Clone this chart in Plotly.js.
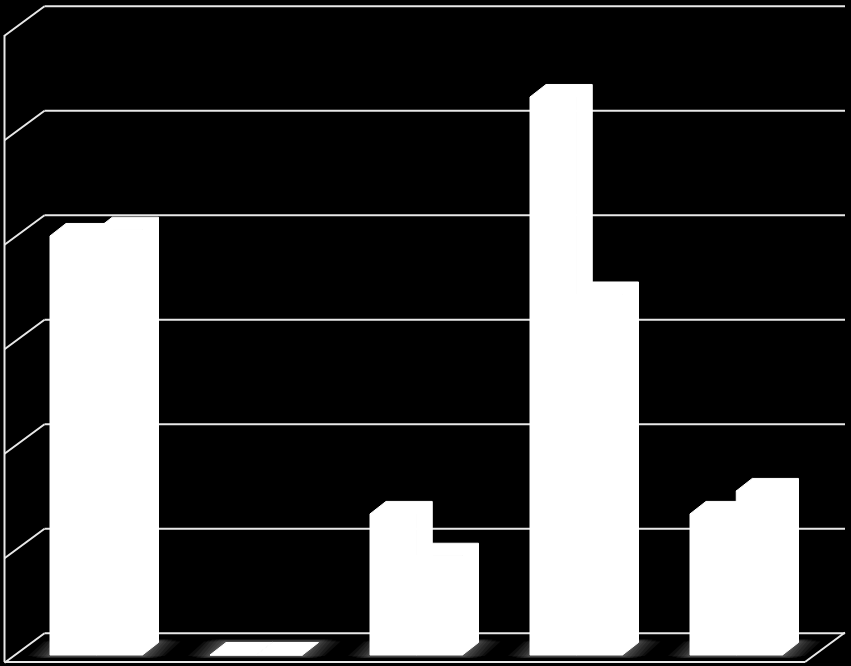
<!DOCTYPE html>
<html>
<head>
<meta charset="utf-8">
<script src="https://cdn.plot.ly/plotly-3.0.1.min.js"></script>
<style>html,body{margin:0;padding:0;background:#000;overflow:hidden}#c{width:851px;height:666px}</style>
</head>
<body>
<div id="c"></div>
<script>
var categories = [0, 1, 2, 3, 4];
var seriesA = [4.01, 0, 1.35, 5.34, 1.35];
var seriesB = [4.07, 0, 0.95, 3.45, 1.57];
var gridValues = [0, 1, 2, 3, 4, 5, 6];

// Projection settings for the pseudo-3D look (axis units)
var PXX = 160, PXY = 104.5;
var barW = 46.25 / PXX, barDX = 16 / PXX, barDY = 12.5 / PXY;
var wallX0 = -45.5 / PXX, wallX1 = 755 / PXX, wallFrontBase = -7 / PXY;
var wallDX = 40 / PXX, wallDY = 29.5 / PXY;
var gridColor = '#e8e8e8', gridWidth = 2;

function seg(x0, y0, x1, y1, w) {
  return {type: 'line', layer: 'below', xref: 'x', yref: 'y', x0: x0, y0: y0, x1: x1, y1: y1,
          line: {color: gridColor, width: w || gridWidth}};
}
var shapes = [];
gridValues.forEach(function (g) {
  var fy = wallFrontBase + g - 0.7 / PXY, by = wallFrontBase + g + wallDY - 0.7 / PXY, bx = wallX0 + wallDX;
  shapes.push(seg(wallX0, fy, bx, by));
  shapes.push(seg(bx, by, wallX1 + wallDX, by));
});
shapes.push(seg(wallX0, wallFrontBase, wallX0, wallFrontBase + 6));
shapes.push(seg(wallX0, wallFrontBase, wallX1, wallFrontBase));
shapes.push(seg(wallX1, wallFrontBase, wallX1 + wallDX, wallFrontBase + wallDY));

var traces = [];
// soft floor shadows (white on white stays invisible over the bars)
var glow = [[22, 1], [18, 2], [14, 3], [10, 3], [7, 3], [4, 2], [2, 2]];
categories.forEach(function (c) {
  glow.forEach(function (g) {
    var ex = g[0] / PXX, ey = g[1] / PXY;
    var l = c - ex, r = c + 2 * barW + ex;
    traces.push({type: 'scatter', mode: 'lines', fill: 'toself', hoverinfo: 'skip', showlegend: false,
      fillcolor: 'rgba(255,255,255,0.055)', line: {width: 0},
      x: [l, r, r + barDX, l + barDX, l],
      y: [-ey, -ey, barDY + ey, barDY + ey, -ey]});
  });
});
// front faces
traces.push({type: 'bar', x: categories, y: seriesA, offset: 0, width: barW, marker: {color: '#ffffff', line: {color: '#ffffff', width: 1}}, showlegend: false, name: 'A'});
traces.push({type: 'bar', x: categories, y: seriesB, offset: barW, width: barW, marker: {color: '#ffffff', line: {color: '#ffffff', width: 1}}, showlegend: false, name: 'B'});
// top and side faces
function depth(vals, off) {
  vals.forEach(function (v, i) {
    var x0 = categories[i] + off, x1 = x0 + barW;
    traces.push({type: 'scatter', mode: 'lines', fill: 'toself', hoverinfo: 'skip', showlegend: false,
      fillcolor: '#ffffff', line: {width: 1, color: '#ffffff'},
      x: [x0, x0 + barDX, x1 + barDX, x1 + barDX, x1, x1, x0],
      y: [v, v + barDY, v + barDY, barDY, 0, v, v]});
  });
}
depth(seriesA, 0);
depth(seriesB, barW);

var layout = {
  width: 851, height: 666,
  margin: {l: 0, r: 0, t: 0, b: 0, pad: 0},
  paper_bgcolor: '#000', plot_bgcolor: '#000',
  showlegend: false, barmode: 'overlay',
  xaxis: {visible: false, range: [-50 / PXX, 801 / PXX], fixedrange: true},
  yaxis: {visible: false, range: [-11 / PXY, 655 / PXY], fixedrange: true},
  shapes: shapes
};
Plotly.newPlot('c', traces, layout, {displayModeBar: false, staticPlot: true});
</script>
</body>
</html>
